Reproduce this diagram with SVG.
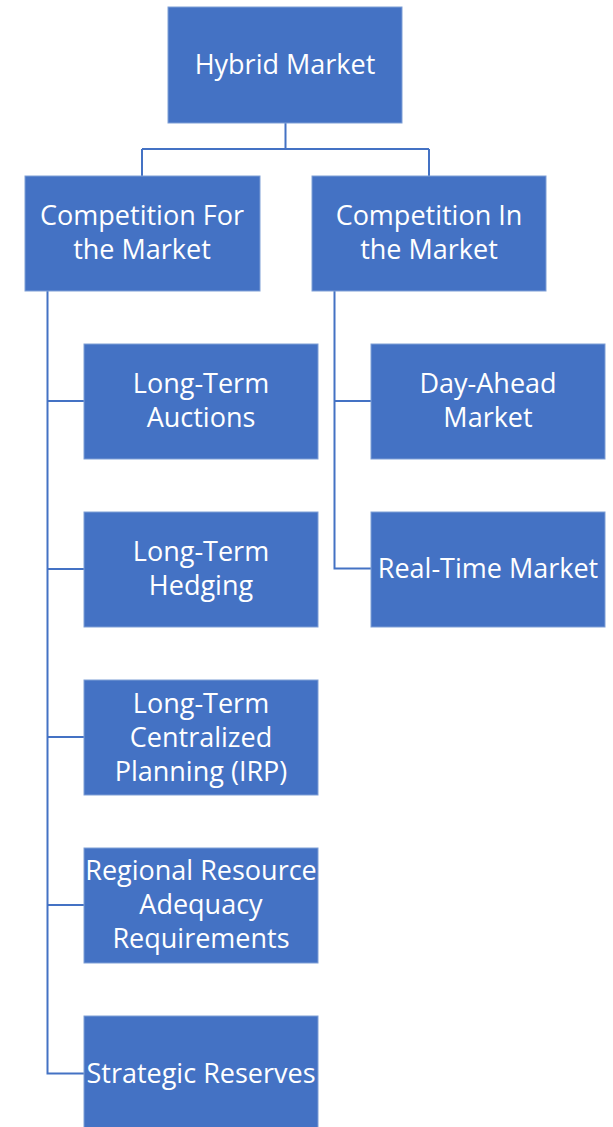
<svg xmlns="http://www.w3.org/2000/svg" width="613" height="1127" viewBox="0 0 613 1127">
  <style>
    .box { fill: #4472C4; stroke: #7f9fd6; stroke-width: 1; }
    .lbl { fill: #ffffff; font-family: "Open Sans", "Liberation Sans", sans-serif; font-size: 27px; text-anchor: middle; }
    .wire { fill: none; stroke: #4472C4; stroke-width: 2; }
  </style>
  <rect width="613" height="1127" fill="#ffffff"/>

  <!-- tree connectors -->
  <g id="connectors">
    <path class="wire" d="M285.5 123 V149 M142 149 H429 M142 176 V149 M429 176 V149"/>
    <path class="wire" d="M47.5 291 V1073.5 H84 M47.5 401 H84 M47.5 569 H84 M47.5 737 H84 M47.5 905 H84"/>
    <path class="wire" d="M334.5 291 V568.5 H371 M334.5 401 H371"/>
  </g>

  <g id="hybrid-market">
    <rect class="box" x="168" y="7" width="234" height="116"/>
    <text class="lbl" x="285" y="74">Hybrid Market</text>
  </g>

  <g id="competition-for">
    <rect class="box" x="25" y="176" width="235" height="115"/>
    <text class="lbl" x="142" y="225">Competition For</text>
    <text class="lbl" x="142" y="259">the Market</text>
  </g>

  <g id="competition-in">
    <rect class="box" x="312" y="176" width="234" height="115"/>
    <text class="lbl" x="429" y="225">Competition In</text>
    <text class="lbl" x="429" y="259">the Market</text>
  </g>

  <g id="lt-auctions">
    <rect class="box" x="84" y="344" width="234" height="115"/>
    <text class="lbl" x="201" y="393">Long-Term</text>
    <text class="lbl" x="201" y="427">Auctions</text>
  </g>

  <g id="lt-hedging">
    <rect class="box" x="84" y="512" width="234" height="115"/>
    <text class="lbl" x="201" y="561">Long-Term</text>
    <text class="lbl" x="201" y="595">Hedging</text>
  </g>

  <g id="lt-planning">
    <rect class="box" x="84" y="680" width="234" height="115"/>
    <text class="lbl" x="201" y="713">Long-Term</text>
    <text class="lbl" x="201" y="747">Centralized</text>
    <text class="lbl" x="201" y="781">Planning (IRP)</text>
  </g>

  <g id="regional-adequacy">
    <rect class="box" x="84" y="848" width="234" height="115"/>
    <text class="lbl" x="201" y="880">Regional Resource</text>
    <text class="lbl" x="201" y="914">Adequacy</text>
    <text class="lbl" x="201" y="948">Requirements</text>
  </g>

  <g id="strategic-reserves">
    <rect class="box" x="84" y="1016" width="234" height="115"/>
    <text class="lbl" x="201" y="1083">Strategic Reserves</text>
  </g>

  <g id="day-ahead">
    <rect class="box" x="371" y="344" width="234" height="115"/>
    <text class="lbl" x="488" y="393">Day-Ahead</text>
    <text class="lbl" x="488" y="427">Market</text>
  </g>

  <g id="real-time">
    <rect class="box" x="371" y="512" width="234" height="115"/>
    <text class="lbl" x="488" y="578">Real-Time Market</text>
  </g>
</svg>
